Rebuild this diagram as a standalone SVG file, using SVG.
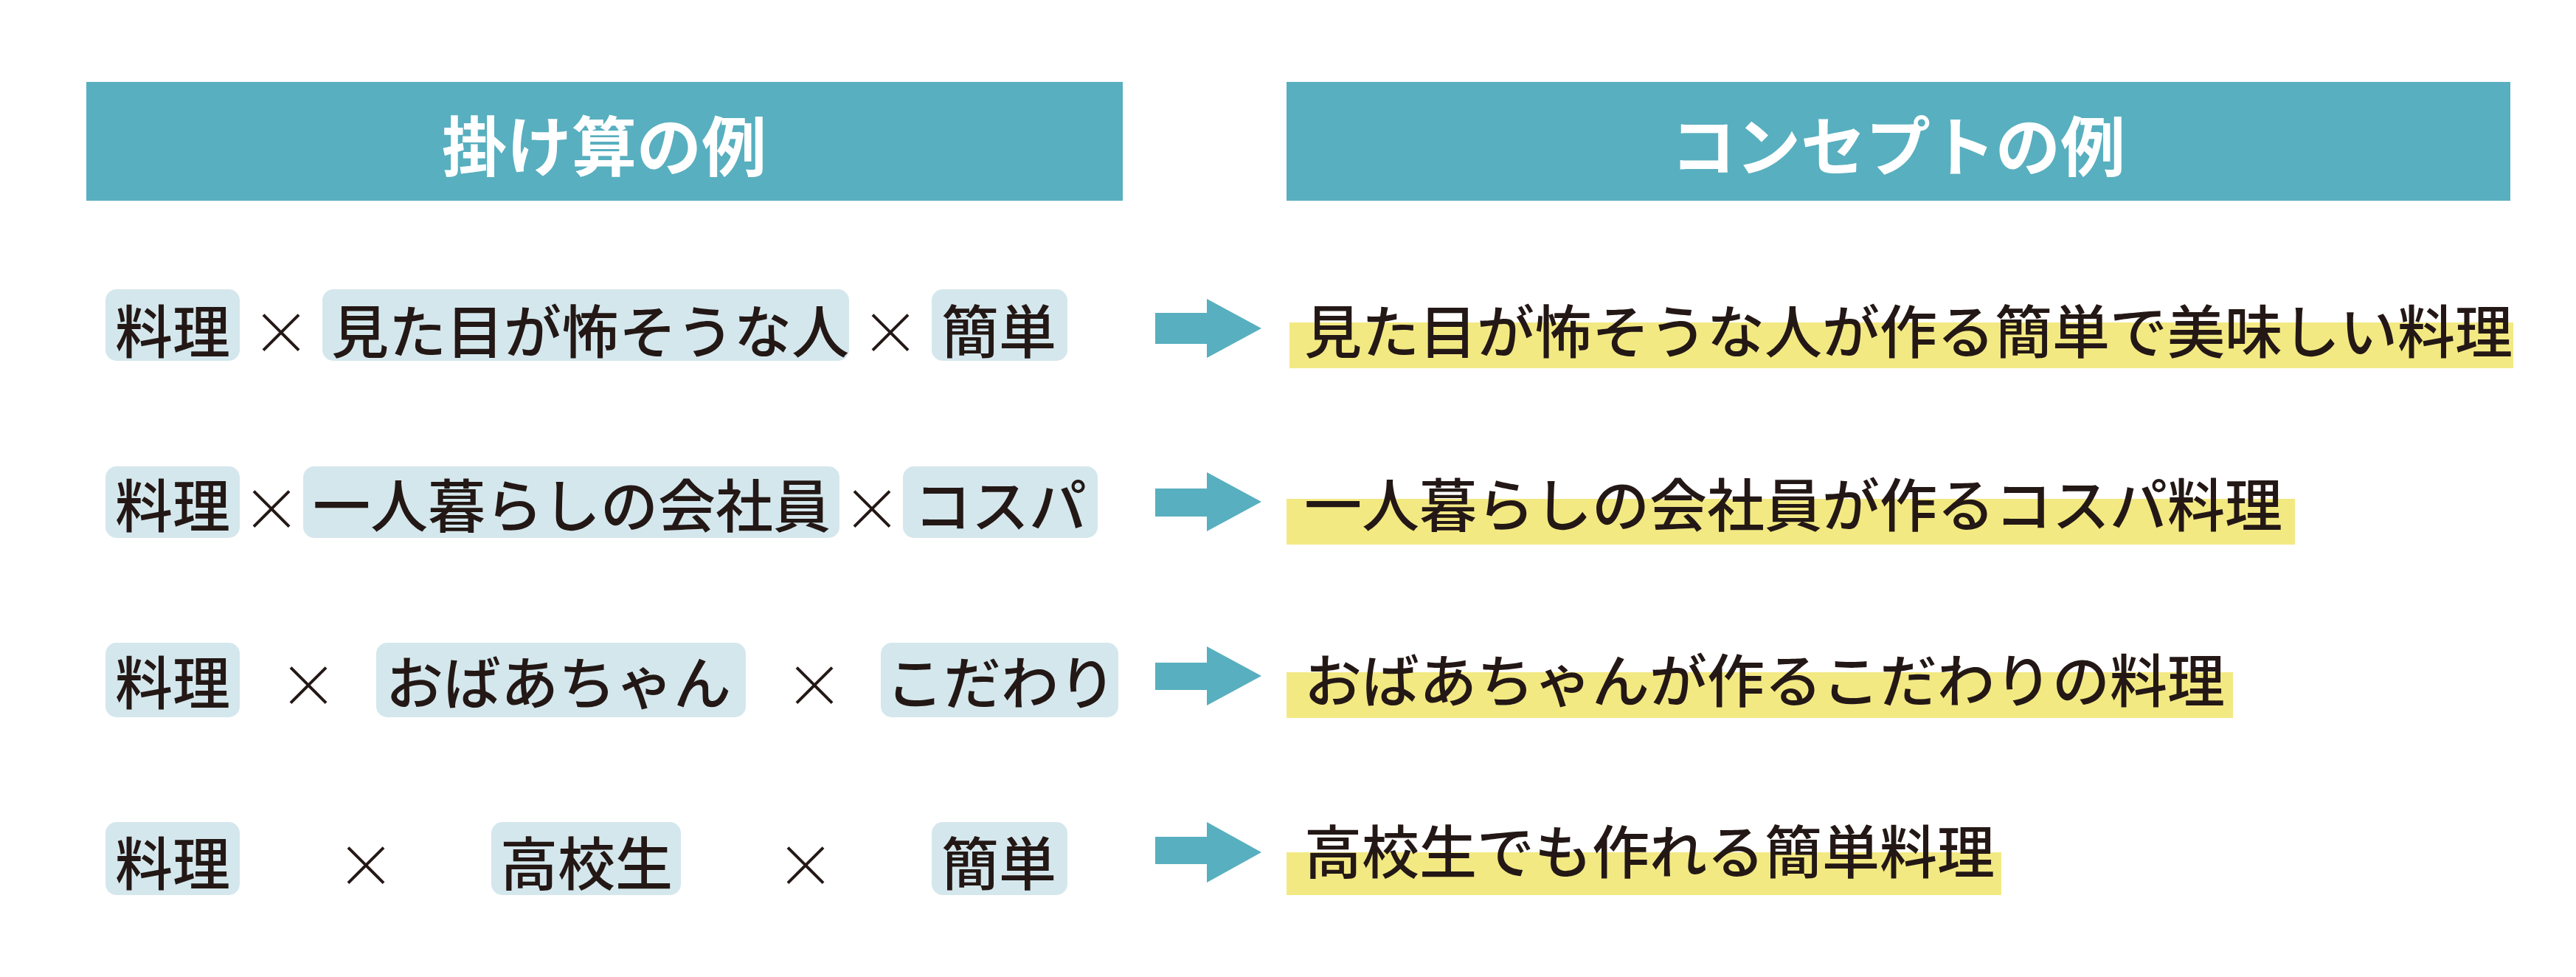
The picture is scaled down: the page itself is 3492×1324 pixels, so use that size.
<svg xmlns="http://www.w3.org/2000/svg" width="3492" height="1324" viewBox="0 0 3492 1324">
<style>
.hdr{fill:#58AFBF}
.hdrt{font-family:"Noto Sans CJK JP","Noto Sans CJK SC",sans-serif;font-weight:700;font-size:88px;fill:#FFFFFF;text-anchor:middle;dominant-baseline:central}
.chip{fill:#D4E7ED}
.t{font-family:"Noto Sans CJK JP","Noto Sans CJK SC",sans-serif;font-weight:500;font-size:78px;fill:#231815;dominant-baseline:central}
.c{text-anchor:middle}
.x{font-family:"Noto Sans CJK JP","Noto Sans CJK SC",sans-serif;font-weight:300;font-size:80px;fill:#231815;text-anchor:middle;dominant-baseline:central}
.hl{fill:#F3E983}
.arr{fill:#58AFBF}
</style>
<rect width="3492" height="1324" fill="#FFFFFF"/>
<g id="header-left"><rect class="hdr" x="117" y="111" width="1405" height="161"/><text class="hdrt" x="819" y="192">掛け算の例</text></g>
<g id="header-right"><rect class="hdr" x="1744" y="111" width="1659" height="161"/><text class="hdrt" x="2573" y="192">コンセプトの例</text></g>

<g id="row1-left">
<rect class="chip" x="143" y="392" width="182" height="97" rx="15"/><text class="t c" x="234" y="445">料理</text>
<text class="x" x="381" y="445">×</text>
<rect class="chip" x="437" y="392" width="714" height="97" rx="15"/><text class="t c" x="800" y="445">見た目が怖そうな人</text>
<text class="x" x="1207" y="445">×</text>
<rect class="chip" x="1263" y="392" width="184" height="97" rx="15"/><text class="t c" x="1354" y="445">簡単</text>
</g>
<g id="row2-left">
<rect class="chip" x="143" y="632" width="182" height="97" rx="15"/><text class="t c" x="234" y="681">料理</text>
<text class="x" x="368" y="684">×</text>
<rect class="chip" x="411" y="632" width="727" height="97" rx="15"/><text class="t c" x="775" y="681">一人暮らしの会社員</text>
<text class="x" x="1182" y="684">×</text>
<rect class="chip" x="1224" y="632" width="264" height="97" rx="15"/><text class="t c" x="1356" y="681">コスパ</text>
</g>
<g id="row3-left">
<rect class="chip" x="143" y="871" width="182" height="101" rx="15"/><text class="t c" x="234" y="921">料理</text>
<text class="x" x="418" y="923">×</text>
<rect class="chip" x="510" y="871" width="501" height="101" rx="15"/><text class="t c" x="757" y="921">おばあちゃん</text>
<text class="x" x="1104" y="923">×</text>
<rect class="chip" x="1194" y="871" width="322" height="101" rx="15"/><text class="t c" x="1357" y="921">こだわり</text>
</g>
<g id="row4-left">
<rect class="chip" x="143" y="1114" width="182" height="99" rx="15"/><text class="t c" x="234" y="1166">料理</text>
<text class="x" x="496" y="1167">×</text>
<rect class="chip" x="666" y="1114" width="257" height="99" rx="15"/><text class="t c" x="795" y="1166">高校生</text>
<text class="x" x="1092" y="1167">×</text>
<rect class="chip" x="1263" y="1114" width="184" height="99" rx="15"/><text class="t c" x="1354" y="1166">簡単</text>
</g>

<g id="connectors">
<polygon class="arr" points="1566,424 1636,424 1636,405 1710,445 1636,485 1636,466 1566,466"/>
<polygon class="arr" points="1566,662 1636,662 1636,640 1710,680 1636,720 1636,700 1566,700"/>
<polygon class="arr" points="1566,898 1636,898 1636,876 1710,916 1636,956 1636,935 1566,935"/>
<polygon class="arr" points="1566,1134 1636,1134 1636,1114 1710,1155 1636,1196 1636,1171 1566,1171"/>
</g>

<g id="row1-right"><rect class="hl" x="1748" y="437" width="1659" height="62"/><text class="t" x="1768" y="445">見た目が怖そうな人が作る簡単で美味しい料理</text></g>
<g id="row2-right"><rect class="hl" x="1744" y="676" width="1367" height="62"/><text class="t" x="1768" y="680">一人暮らしの会社員が作るコスパ料理</text></g>
<g id="row3-right"><rect class="hl" x="1744" y="911" width="1283" height="62"/><text class="t" x="1768" y="918">おばあちゃんが作るこだわりの料理</text></g>
<g id="row4-right"><rect class="hl" x="1744" y="1155" width="969" height="58"/><text class="t" x="1768" y="1150">高校生でも作れる簡単料理</text></g>
</svg>
